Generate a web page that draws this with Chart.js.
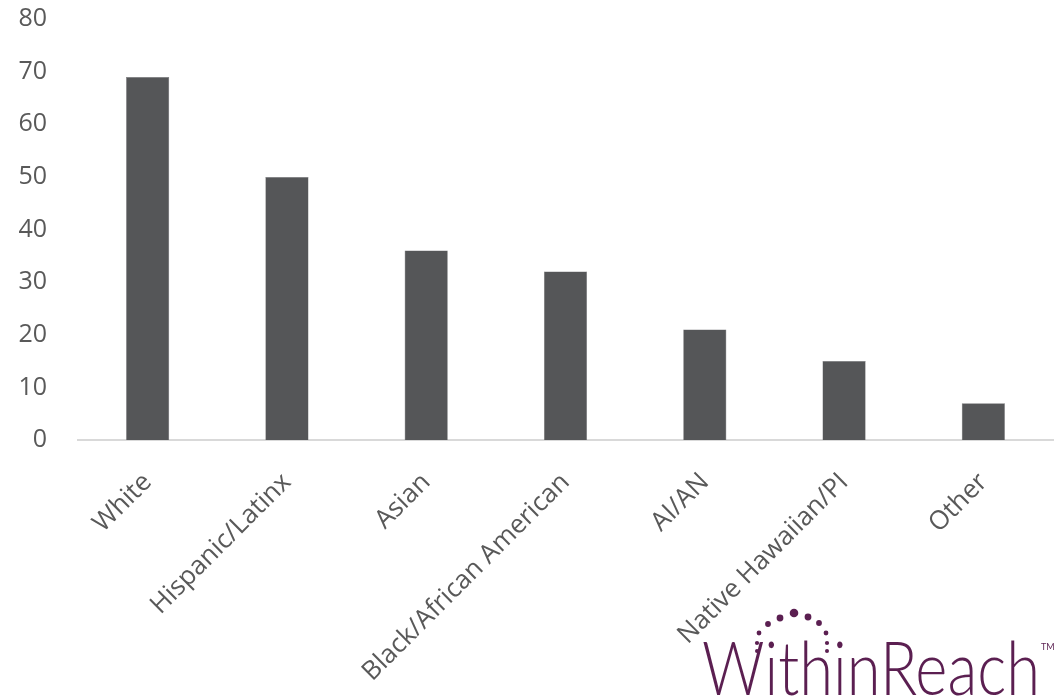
<!DOCTYPE html>
<html><head><meta charset="utf-8">
<script src="https://cdn.jsdelivr.net/npm/chart.js@4"></script>
<style>html,body{margin:0;padding:0;background:#fff;}#wrap{width:1063px;height:700px;position:relative;}</style>
</head><body><div id="wrap"><canvas id="c" width="1063" height="700"></canvas></div>
<script>
const categories = ["White","Hispanic/Latinx","Asian","Black/African American","AI/AN","Native Hawaiian/PI","Other"];
const values = [69, 50, 36, 32, 21, 15, 7];
const yTicks = [0,10,20,30,40,50,60,70,80];

const logoPlugin = {
  id: 'logo',
  afterDraw(chart) {
    const ctx = chart.ctx;
    ctx.save();
    const purple = '#5b1f51';
    ctx.fillStyle = purple;
    ctx.font = '300 74px Lato, "Open Sans", sans-serif';
    ctx.textBaseline = 'alphabetic';
    ctx.textAlign = 'left';
    ctx.fillText('WithinReach', 702, 695, 338);
    ctx.font = '9px Lato, sans-serif';
    ctx.fillText('TM', 1041, 650);
    const dots = [[757,651,2],[757,643,2.1],[759,633,2.4],[768,624,2.9],[780,618,3.4],[794,613,4.3],[808,617,3.4],[819,623,2.9],[826,633,2.4],[827,643,2.1],[827,651,2]];
    dots.forEach(d => { ctx.beginPath(); ctx.arc(d[0], d[1], d[2], 0, Math.PI*2); ctx.fill(); });
    ctx.restore();
  }
};

const yFont = { family: '"Open Sans", sans-serif', size: 25 };
const xFont = { family: '"Open Sans", sans-serif', size: 26 };

new Chart(document.getElementById('c'), {
  type: 'bar',
  data: {
    labels: categories,
    datasets: [{
      data: values,
      backgroundColor: '#555658',
      borderColor: '#6e6e70',
      borderWidth: 0.5,
      categoryPercentage: 1,
      barPercentage: 0.31
    }]
  },
  options: {
    responsive: false,
    animation: false,
    devicePixelRatio: 1,
    layout: { autoPadding: false, padding: { top: 19, right: 10, left: 0, bottom: 0 } },
    plugins: { legend: { display: false }, tooltip: { enabled: false } },
    scales: {
      y: {
        min: 0, max: 80,
        afterBuildTicks(axis) { axis.ticks = yTicks.map(v => ({ value: v })); },
        afterFit(axis) { axis.width = 78; },
        grid: { display: false, drawTicks: true, tickLength: 31 },
        border: { display: false },
        ticks: { color: '#595959', font: yFont, padding: 0 }
      },
      x: {
        afterFit(axis) { axis.height = 260; },
        grid: { display: false, drawTicks: false },
        border: { display: true, color: '#d9d9d9', width: 2 },
        ticks: { color: '#595959', font: xFont, minRotation: 45, maxRotation: 45, padding: 27, autoSkip: false }
      }
    }
  },
  plugins: [logoPlugin]
});
</script></body></html>
